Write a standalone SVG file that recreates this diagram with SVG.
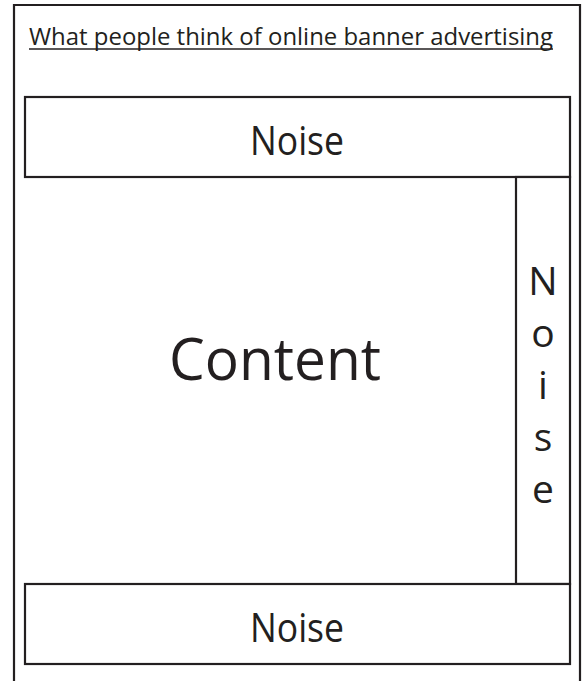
<svg xmlns="http://www.w3.org/2000/svg" width="586" height="681" viewBox="0 0 586 681">
<style>
.box{fill:#ffffff;stroke:#231f20;stroke-width:2.2}
.lbl{font-family:"Open Sans","Noto Sans",sans-serif;fill:#231f20;text-anchor:middle}
</style>
<rect x="0" y="0" width="586" height="681" fill="#ffffff"/>
<g id="frame">
<path d="M14,682 V5 H580 V682" fill="none" stroke="#231f20" stroke-width="2.2"/>
<text x="29" y="45" font-family="'Open Sans','Noto Sans',sans-serif" font-size="24" fill="#231f20" textLength="524" lengthAdjust="spacingAndGlyphs">What people think of online banner advertising</text>
<line x1="29" y1="49" x2="553" y2="49" stroke="#231f20" stroke-width="1.5"/>
</g>
<g id="connectors"></g>
<g id="noise-top">
<rect class="box" x="25" y="97" width="545" height="80"/>
<text class="lbl" x="297" y="155" font-size="40" textLength="94" lengthAdjust="spacingAndGlyphs">Noise</text>
</g>
<g id="content">
<text class="lbl" x="275" y="380" font-size="59" textLength="212" lengthAdjust="spacingAndGlyphs">Content</text>
</g>
<g id="noise-side">
<rect class="box" x="516" y="177" width="54" height="407"/>
<text class="lbl" font-size="39"><tspan x="543" y="295">N</tspan><tspan x="543" y="347">o</tspan><tspan x="543" y="399">i</tspan><tspan x="543" y="451">s</tspan><tspan x="543" y="503">e</tspan></text>
</g>
<g id="noise-bottom">
<rect class="box" x="25" y="584" width="545" height="80"/>
<text class="lbl" x="297" y="642" font-size="40" textLength="94" lengthAdjust="spacingAndGlyphs">Noise</text>
</g>
</svg>
